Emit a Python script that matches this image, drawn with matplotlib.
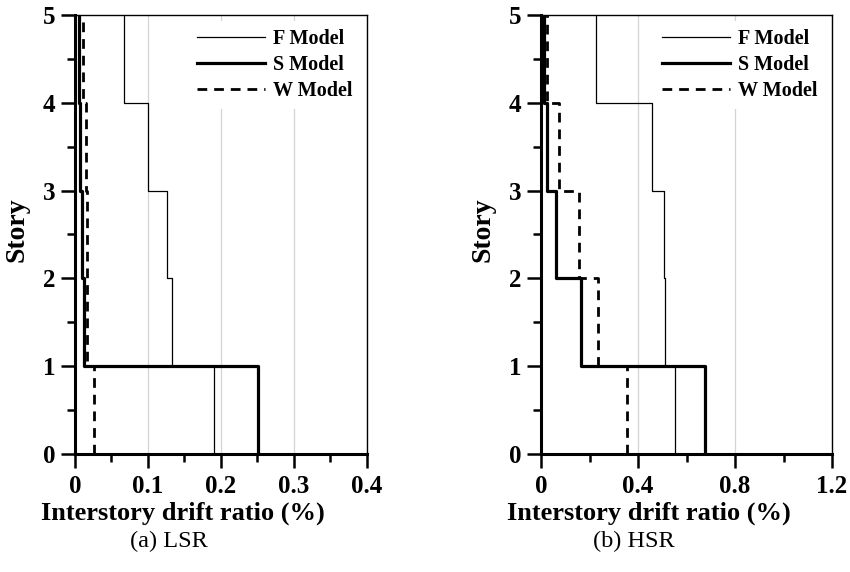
import numpy as np
import matplotlib
matplotlib.use('Agg')
import matplotlib.pyplot as plt

# drift ratio (%) per story, story 1 (bottom) to story 5 (top)
stories = [1, 2, 3, 4, 5]
lsr_f = [0.191, 0.133, 0.1265, 0.100, 0.067]
lsr_s = [0.251, 0.013, 0.009, 0.0065, 0.0055]
lsr_w = [0.026, 0.016, 0.0165, 0.0145, 0.011]
hsr_f = [0.553, 0.512, 0.508, 0.457, 0.226]
hsr_s = [0.677, 0.164, 0.062, 0.026, 0.012]
hsr_w = [0.353, 0.233, 0.157, 0.074, 0.025]

plt.rcParams['font.family'] = ['Liberation Serif', 'DejaVu Serif']
plt.rcParams['font.weight'] = 'bold'


def profile(vals):
    # vertical segment for each story, joined by horizontals at floor levels
    x = np.repeat(vals, 2)
    top = np.array(stories)
    y = np.column_stack([top - 1, top]).ravel()
    return x, y


def draw(ax, f, s, w, xmax, step, caption):
    ax.grid(True, axis='x', color='#d4d4d4', lw=0.9, zorder=0)
    ax.plot(*profile(f), color='black', lw=0.9, label='F Model', zorder=3)
    ax.plot(*profile(s), color='black', lw=2.3, label='S Model', zorder=4)
    ax.plot(*profile(w), color='black', lw=2.0, ls=(0, (3.5, 2.5)),
            label='W Model', zorder=5)
    ax.set_xlim(0, xmax)
    ax.set_ylim(0, 5)
    major = np.arange(0, xmax + step / 2, step)
    ax.set_xticks(major)
    ax.set_xticks(major[:-1] + step / 2, minor=True)
    ax.set_yticks(range(6))
    ax.set_yticks([0.5, 1.5, 2.5, 3.5, 4.5], minor=True)
    ax.set_xticklabels(['0'] + ['%g' % round(v, 2) for v in major[1:]])
    ax.tick_params(which='major', direction='out', length=10, width=1.8,
                   labelsize=18, pad=5)
    ax.tick_params(axis='y', which='major', pad=4)
    ax.tick_params(which='minor', direction='out', length=5.5, width=1.8)
    ax.tick_params(top=False, right=False, which='both')
    for side in ['left', 'bottom']:
        ax.spines[side].set_linewidth(2.2)
    for side in ['top', 'right']:
        ax.spines[side].set_linewidth(1.0)
    ax.set_xlabel('Interstory drift ratio (%)', fontsize=19, fontweight='bold')
    ax.xaxis.set_label_coords(0.37, -0.108)
    ax.set_ylabel('Story', fontsize=20, fontweight='bold')
    ax.yaxis.set_label_coords(-0.155, 0.51)
    ax.text(0.32, -0.2, caption, transform=ax.transAxes, fontsize=17.5,
            fontweight='normal', ha='center', va='center')
    leg = ax.legend(loc='upper right', fontsize=14.5, handlelength=3.4,
                    handletextpad=0.4, labelspacing=0.3, borderpad=0.4,
                    borderaxespad=0.3, frameon=True, fancybox=False,
                    framealpha=1)
    leg.get_frame().set_edgecolor('none')
    for t in leg.get_texts():
        t.set_fontweight('bold')


fig = plt.figure(figsize=(8.5, 5.72), dpi=100)
ax1 = fig.add_axes([0.0882, 0.2063, 0.3435, 0.7675])
ax2 = fig.add_axes([0.6365, 0.2063, 0.3424, 0.7675])
draw(ax1, lsr_f, lsr_s, lsr_w, 0.4, 0.1, '(a) LSR')
draw(ax2, hsr_f, hsr_s, hsr_w, 1.2, 0.4, '(b) HSR')

fig.savefig('out.png', dpi=100)
